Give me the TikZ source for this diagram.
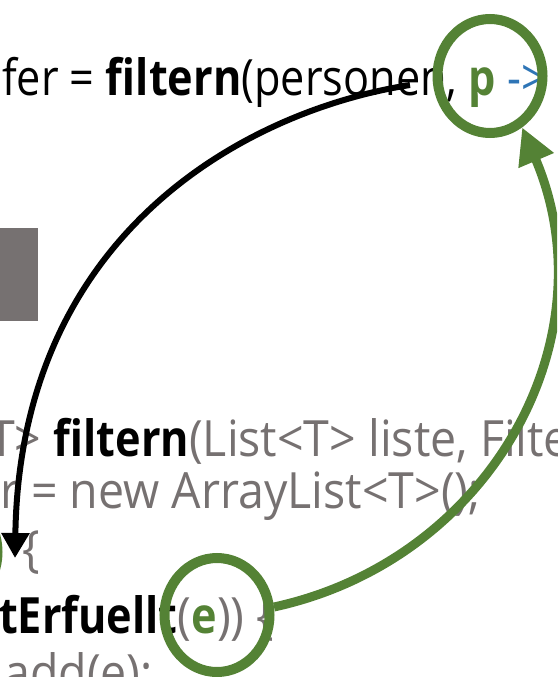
\documentclass[tikz,border=0pt]{standalone}
\usepackage{fontspec}
\setmainfont{Open Sans}[FakeStretch=0.93]
\newfontfamily\narrowfont{Open Sans}[FakeStretch=0.865]
\newcommand\kw[1]{{\narrowfont\bfseries #1}}
\usetikzlibrary{arrows.meta}
\usetikzlibrary{shapes.geometric}

\definecolor{codegray}{HTML}{767171}
\definecolor{lambdagreen}{HTML}{548235}
\definecolor{arrowblue}{HTML}{2E75B6}

\tikzset{
  codeline/.style={anchor=base west, inner sep=0pt, font=\fontsize{50}{56}\selectfont},
  marker/.style={draw=lambdagreen, ellipse, line width=10pt, minimum width=105pt, minimum height=114pt, inner sep=0pt},
  callarrow/.style={line width=6pt, -{Triangle[length=25pt,width=27pt]}},
  backarrow/.style={draw=lambdagreen, line width=9pt, -{Triangle[length=36pt,width=36pt]}},
}

\begin{document}
\begin{tikzpicture}[x=1pt, y=-1pt]
    \useasboundingbox (0,0) rectangle (557,677);
    \clip (0,0) rectangle (557,677);

    % code on the slide
    \node [codeline] (aufrufzeile) at (2,95) {\narrowfont fer = \kw{filtern}(personen, \textcolor{lambdagreen}{\kw{p}} \textcolor{arrowblue}{->}};
    \fill [codegray] (0,228) rectangle (38,321);
    \node [codeline, text=codegray] (kopfzeile) at (-11,456) {T> \textcolor{black}{\kw{filtern}}(List<T> liste, Filter<T> filter) \{};
    \node [codeline, text=codegray] (listezeile) at (0,508) {r = new ArrayList<T>();};
    \node [codeline, text=codegray] (schleifezeile) at (22,566) {\{};
    \node [codeline, text=codegray] (pruefzeile) at (-1,633) {\textcolor{black}{\kw{tErfuellt}}(\textcolor{lambdagreen}{\kw{e}})) \{};
    \node [codeline, text=codegray] (addzeile) at (4,690) {add(e);};

    % highlighted parameters
    \node [marker] (pkreis) at (490,76) {};
    \node [marker] (ekreis) at (217,615) {};
    \node [marker] (tkreis) at (-55,552) {};

    % call and callback
    \coordinate (aufruf) at (410,85);
    \coordinate (schleife) at (15,558);
    \draw [callarrow] (aufruf) .. controls (250,110) and (20,230) .. (schleife);
    \draw [backarrow] (ekreis.8) .. controls (490,560) and (612,339) .. (pkreis.302);
\end{tikzpicture}
\end{document}
